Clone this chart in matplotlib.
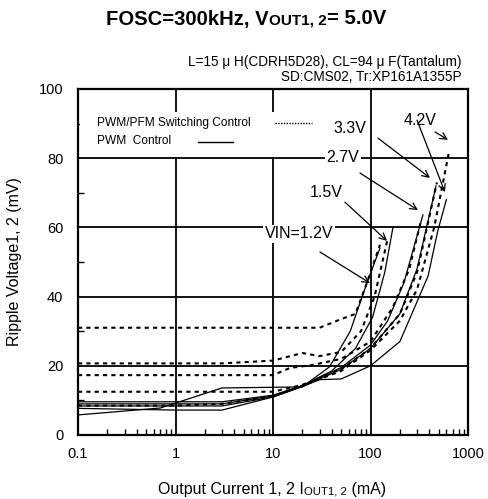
import matplotlib
matplotlib.use("Agg")
import matplotlib.pyplot as plt
from matplotlib.ticker import LogLocator, FixedLocator, NullFormatter
from matplotlib.patches import Rectangle

plt.rcParams['font.family'] = ['Liberation Sans', 'DejaVu Sans']

# PWM control (solid), output current mA -> ripple mV
pwm_12_x = [0.1, 0.7, 3, 20, 38, 62, 92, 125]
pwm_12_y = [5.8, 7.8, 13.6, 13.9, 19.7, 30, 44, 54]
pwm_15_x = [0.1, 3, 10, 20, 40, 70, 105, 140, 170]
pwm_15_y = [9.6, 9.6, 11.5, 14.3, 18.5, 25, 34, 47, 60]
pwm_27_x = [0.1, 3, 10, 20, 50, 100, 150, 220, 345]
pwm_27_y = [9.0, 9.0, 11.3, 14.2, 19.5, 26, 33, 44, 63.6]
pwm_33_x = [0.1, 3, 10, 20, 50, 100, 200, 300, 470]
pwm_33_y = [8.4, 8.4, 11.0, 14.0, 19, 25, 35, 48, 72]
pwm_42_x = [0.1, 1, 3, 10, 20, 30, 50, 100, 200, 300, 390, 490, 600]
pwm_42_y = [7.7, 7.2, 7.2, 11, 14, 16, 16.2, 20, 27, 38.5, 46, 59, 68]

# PWM/PFM switching control (dotted)
pfm_12_x = [0.1, 30, 50, 70, 92, 125]
pfm_12_y = [31, 31, 33.5, 35, 44, 55]
pfm_15_x = [0.1, 3, 10, 20, 30, 50, 80, 110, 148]
pfm_15_y = [20.7, 20.7, 21.5, 23.7, 22.8, 24, 30, 40, 56]
pfm_27_x = [0.1, 10, 15, 25, 50, 100, 170, 250, 330]
pfm_27_y = [17.3, 17.3, 19.4, 20.2, 22, 27, 37, 48, 62]
pfm_33_x = [0.1, 10, 20, 50, 100, 200, 300, 480]
pfm_33_y = [12.5, 12.5, 14.5, 19, 25, 35, 47, 73]
pfm_42_x = [0.1, 1, 3, 10, 20, 50, 100, 200, 300, 450, 640]
pfm_42_y = [8.5, 8.5, 9, 11.2, 14.3, 18.5, 24.5, 33, 42, 60, 82]

x_ticks = [0.1, 1, 10, 100, 1000]
x_labels = ['0.1', '1', '10', '100', '1000']
y_ticks = [0, 20, 40, 60, 80, 100]

# labels: text, text pos, arrow tips (start, end)
vin_labels = ['4.2V', '3.3V', '2.7V', '1.5V', 'VIN=1.2V']
label_pos = [(322, 91.0), (61.7, 88.7), (52.2, 80.3), (35.0, 70.2), (18.5, 58.1)]
arrows = [((300, 91.0), (580, 70.2)), ((459, 87.6), (624, 85.3)),
          ((119.4, 85.8), (407.6, 74.3)), ((78, 75.7), (307, 65.0)),
          ((54.7, 67.3), (147.6, 56.1)), ((30.3, 52.9), (98.8, 43.9))]

W, H = 488, 499
fig = plt.figure(figsize=(W / 100, H / 100), dpi=100)
ax = fig.add_axes([78 / W, 1 - 435 / H, 390 / W, 346 / H])
ax.set_xscale('log')
ax.set_xlim(0.1, 1000)
ax.set_ylim(0, 100)

for x, y in [(pwm_12_x, pwm_12_y), (pwm_15_x, pwm_15_y), (pwm_27_x, pwm_27_y),
             (pwm_33_x, pwm_33_y), (pwm_42_x, pwm_42_y)]:
    ax.plot(x, y, color='black', lw=0.9, zorder=3)
for x, y in [(pfm_12_x, pfm_12_y), (pfm_15_x, pfm_15_y), (pfm_27_x, pfm_27_y),
             (pfm_33_x, pfm_33_y), (pfm_42_x, pfm_42_y)]:
    ax.plot(x, y, color='black', lw=1.5, linestyle=(0, (2, 2)), zorder=3)

ax.set_xticks(x_ticks)
ax.set_xticklabels(x_labels)
ax.set_yticks(y_ticks)
ax.xaxis.set_minor_locator(LogLocator(base=10, subs=range(2, 10)))
ax.xaxis.set_minor_formatter(NullFormatter())
ax.yaxis.set_minor_locator(FixedLocator([10, 30, 50, 70, 90]))
ax.tick_params(which='major', length=0, labelsize=10.5, colors='black')
ax.tick_params(axis='x', which='major', pad=9)
ax.tick_params(axis='y', which='major', pad=10.5)
ax.tick_params(which='minor', direction='in', length=4, width=1)
ax.grid(True, which='major', color='black', lw=1.3)
for sp in ax.spines.values():
    sp.set_linewidth(1.6)

# legend box
ax.add_patch(Rectangle((0.004, (435 - 157) / 346), (320 - 78) / 390, 45 / 346,
                       transform=ax.transAxes, facecolor='white', edgecolor='none', zorder=2))
ax.text((97 - 78) / 390, (435 - 123) / 346, 'PWM/PFM Switching Control', transform=ax.transAxes,
        fontsize=8.6, va='center', ha='left', zorder=4)
ax.text((97 - 78) / 390, (435 - 141) / 346, 'PWM  Control', transform=ax.transAxes,
        fontsize=8.6, va='center', ha='left', zorder=4)
ax.plot([(275 - 78) / 390, (312 - 78) / 390], [(435 - 123) / 346] * 2, transform=ax.transAxes,
        color='black', lw=1, linestyle=(0, (1, 1)), zorder=4)
ax.plot([(198 - 78) / 390, (233 - 78) / 390], [(435 - 142) / 346] * 2, transform=ax.transAxes,
        color='black', lw=1, zorder=4)

for s, (lx, ly) in zip(vin_labels, label_pos):
    ax.text(lx, ly, s, fontsize=11.5, ha='center', va='center', zorder=4,
            bbox=dict(facecolor='white', edgecolor='none', pad=1))
for (x0, y0), (x1, y1) in arrows:
    ax.annotate('', xy=(x1, y1), xytext=(x0, y0), zorder=5,
                arrowprops=dict(arrowstyle='->', color='black', lw=0.9,
                                shrinkA=0, shrinkB=0, mutation_scale=12))

renderer = fig.canvas.get_renderer()


def put_runs(cx, y, runs):
    arts, widths = [], []
    for s, size, weight in runs:
        t = fig.text(0, y, s, fontsize=size, fontweight=weight, ha='left', va='baseline')
        arts.append(t)
        widths.append(t.get_window_extent(renderer).width)
    x = cx - sum(widths) / 2
    for t, w in zip(arts, widths):
        t.set_x(x / W)
        x += w


put_runs(246, 1 - 24.5 / H, [('FOSC=300kHz, V', 14.6, 'bold'), ('OUT1, 2', 11, 'bold'),
                             ('= 5.0V', 14.6, 'bold')])
put_runs(272, 1 - 494 / H, [('Output Current 1, 2 I', 11.5, 'normal'), ('OUT1, 2', 8.2, 'normal'),
                            (' (mA)', 11.5, 'normal')])

fig.text(462 / W, 1 - 66 / H, 'L=15 μ H(CDRH5D28), CL=94 μ F(Tantalum)', fontsize=9.8,
         ha='right', va='baseline')
fig.text(462 / W, 1 - 81 / H, 'SD:CMS02, Tr:XP161A1355P', fontsize=9.8, ha='right', va='baseline')
fig.text(15 / W, 1 - 262 / H, 'Ripple Voltage1, 2 (mV)', fontsize=11.5, rotation=90,
         ha='center', va='center')

fig.savefig('out.png', dpi=100)
